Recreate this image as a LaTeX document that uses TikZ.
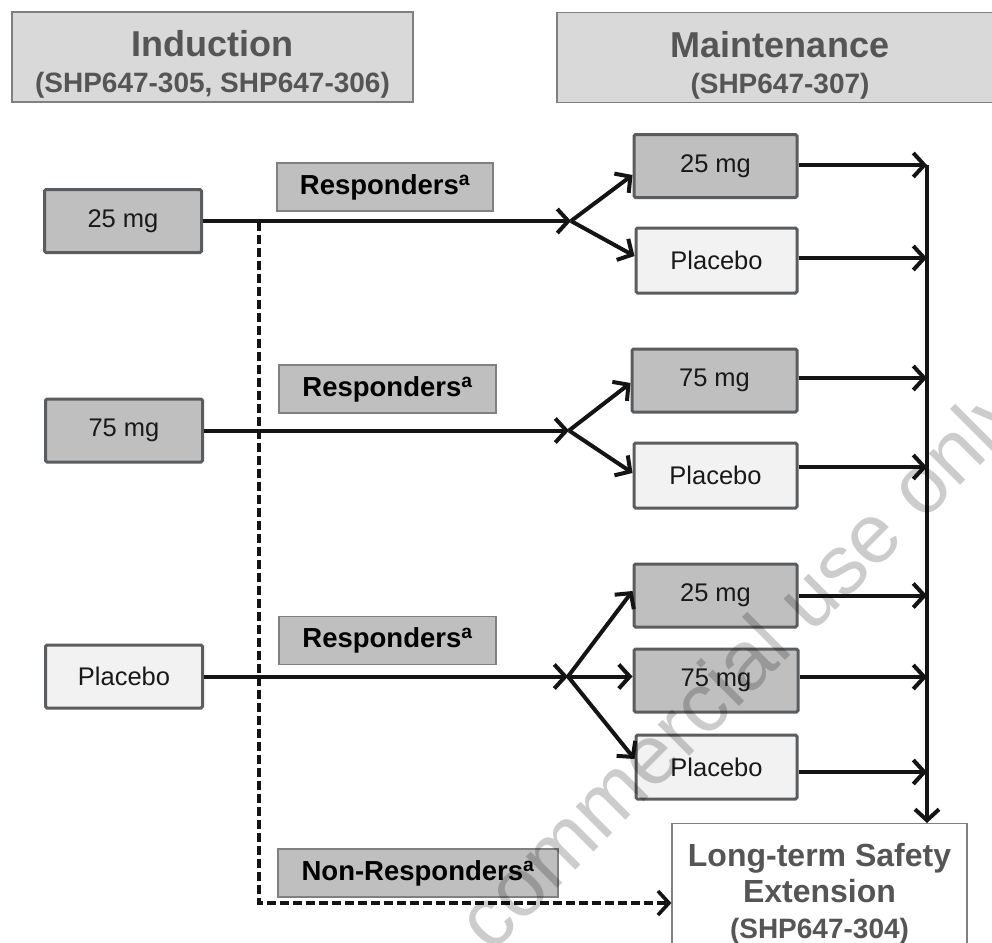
\documentclass[tikz,border=0pt]{standalone}
\usepackage{fontspec}
\setmainfont{Liberation Sans}
\usetikzlibrary{arrows.meta,calc}
\definecolor{boxdark}{HTML}{BFBFBF}
\definecolor{boxlight}{HTML}{F2F2F2}
\definecolor{hdrfill}{HTML}{D9D9D9}
\definecolor{edgedark}{HTML}{5A5D60}
\definecolor{edgemid}{HTML}{808080}
\definecolor{titletext}{HTML}{555555}
\begin{document}
\begin{tikzpicture}[x=1pt,y=-1pt,
  dosebox/.style={draw=edgedark, line width=3pt, rounded corners=1.5pt, minimum width=157pt, minimum height=63pt, inner sep=0pt, font=\fontsize{25.5}{28}\selectfont, text=black!90},
  dark/.style={dosebox, fill=boxdark},
  light/.style={dosebox, fill=boxlight},
  resp/.style={draw=edgemid, line width=1.4pt, fill=boxdark, minimum height=48pt, inner sep=0pt, font=\bfseries\fontsize{27.5}{30}\selectfont, text=black},
  hdr/.style={draw=edgemid, line width=1.4pt, fill=hdrfill, minimum height=90pt, inner sep=0pt, align=center, text=titletext, font=\bfseries\fontsize{28}{33}\selectfont},
  arr/.style={line width=4pt, draw=black!92, -{Straight Barb[length=11pt,width=24pt]}},
  dsh/.style={line width=3.6pt, draw=black!92, dash pattern=on 8.5pt off 4.5pt, -{Straight Barb[length=11pt,width=24pt]}},
  wmark/.style={rotate=45, anchor=base west, text=black, text opacity=0.2, inner sep=0pt, font=\fontsize{84}{84}\selectfont}
]
\useasboundingbox (0,0) rectangle (992,942);
\fill[white] (0,0) rectangle (992,942);

% headers
\node[hdr, minimum width=401pt] (ind) at (212.5,57) {{\fontsize{36}{36}\selectfont\rule{0pt}{41pt}Induction}\\[3pt](SHP647-305, SHP647-306)};
\node[hdr, minimum width=446pt] (mnt) at (780,57.5) {{\fontsize{36}{36}\selectfont\rule{0pt}{41pt}Maintenance}\\[3pt](SHP647-307)};

% induction arms
\node[dark] (i25) at (123,221) {25 mg};
\node[dark] (i75) at (124,430.5) {75 mg};
\node[light] (ipl) at (124,676.5) {Placebo};

% responder labels
\node[resp, minimum width=216pt] (r1) at (385,187) {Responders\textsuperscript{a}};
\node[resp, minimum width=217pt] (r2) at (387.5,389) {Responders\textsuperscript{a}};
\node[resp, minimum width=217pt] (r3) at (387.5,640.5) {Responders\textsuperscript{a}};
\node[resp, minimum width=280pt] (nr) at (418,873) {Non-Responders\textsuperscript{a}};

% maintenance arms
\node[dark, minimum width=163pt] (a25) at (715.5,166) {25 mg};
\node[light, minimum width=161pt, minimum height=65pt] (apl) at (716.5,260.5) {Placebo};
\node[dark, minimum width=165pt] (b75) at (714.5,380.5) {75 mg};
\node[light, minimum width=163pt, minimum height=65pt] (bpl) at (715.5,475.5) {Placebo};
\node[dark, minimum width=163pt] (c25) at (715.5,595.5) {25 mg};
\node[dark, minimum width=164pt] (c75) at (716,680.5) {75 mg};
\node[light, minimum width=161pt, minimum height=64pt] (cpl) at (716.5,767) {Placebo};

% long-term extension
\node[draw=edgemid, line width=1.2pt, fill=white, minimum width=295pt, minimum height=140pt, anchor=north, align=center, inner sep=0pt, text=titletext, font=\bfseries\fontsize{32}{36}\selectfont] (lt) at (819.5,823) {Long-term Safety\\Extension\\{\fontsize{28}{36}\selectfont (SHP647-304)}};

% junctions
\coordinate (j1) at (571,221);
\coordinate (j2) at (569,430.5);
\coordinate (j3) at (568,676.5);
\coordinate (vtop) at (927,165);
\coordinate (dtop) at (259,222);
\coordinate (dbot) at (259,903);

\draw[arr] (i25.east) -- (j1);
\draw[arr] (i75.east) -- (j2);
\draw[arr] (ipl.east) -- (j3);

\draw[arr] (j1) -- ([yshift=-9pt]a25.west);
\draw[arr] (j1) -- ([yshift=4.5pt]apl.west);
\draw[arr] (j2) -- ([yshift=-2.5pt]b75.west);
\draw[arr] (j2) -- ([yshift=2.5pt]bpl.west);
\draw[arr] (j3) -- ([yshift=4.5pt]c25.west);
\draw[arr] (j3) -- (j3 -| c75.west);
\draw[arr] (j3) -- ([yshift=8pt]cpl.west);

\draw[arr] ([yshift=1pt]a25.east) -- ([yshift=1pt]a25.east -| vtop);
\draw[arr] ([yshift=2.5pt]apl.east) -- ([yshift=2.5pt]apl.east -| vtop);
\draw[arr] ([yshift=2.5pt]b75.east) -- ([yshift=2.5pt]b75.east -| vtop);
\draw[arr] ([yshift=8.5pt]bpl.east) -- ([yshift=8.5pt]bpl.east -| vtop);
\draw[arr] (c25.east) -- (c25.east -| vtop);
\draw[arr] ([yshift=3.5pt]c75.east) -- ([yshift=3.5pt]c75.east -| vtop);
\draw[arr] ([yshift=-5pt]cpl.east) -- ([yshift=-5pt]cpl.east -| vtop);

\draw[arr] (vtop) -- (vtop |- lt.north);
\draw[dsh] (dtop) -- (dbot) -- (dbot -| lt.west);

% watermark
\node[wmark] (wm) at (491,955) {commercial use only};
\end{tikzpicture}
\end{document}
